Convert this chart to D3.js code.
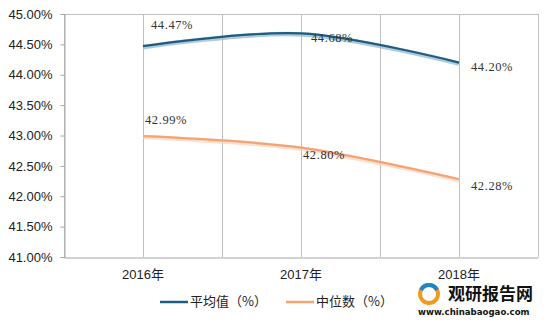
<!DOCTYPE html>
<html><head><meta charset="utf-8">
<script src="https://cdnjs.cloudflare.com/ajax/libs/d3/7.8.5/d3.min.js"></script>
<style>body{margin:0;background:#fff}svg{display:block}</style>
</head><body>
<script>
const categories = ["2016年", "2017年", "2018年"];
const meanValues = [44.47, 44.68, 44.20];
const medianValues = [42.99, 42.80, 42.28];
const yTicks = [41, 41.5, 42, 42.5, 43, 43.5, 44, 44.5, 45];
const seriesNames = ["平均值（%）", "中位数（%）"];

const W = 546, H = 326;
const svg = d3.select("body").append("svg").attr("width", W).attr("height", H);
const L = 64, R = 538, T = 14, B = 257;

const x = d3.scaleBand().domain(categories).range([L, R]);
const xc = d => x(d) + x.bandwidth() / 2;
const y = d3.scaleLinear().domain([41, 45]).range([B, T]);

const grid = "#BFBFBF";
// vertical gridlines: band edges and centers
const vx = [];
categories.forEach(c => { vx.push(x(c)); vx.push(xc(c)); });
vx.push(R);
svg.append("g").selectAll("line").data(vx).join("line")
  .attr("x1", d => Math.round(d) + 0.5).attr("x2", d => Math.round(d) + 0.5)
  .attr("y1", T).attr("y2", B).attr("stroke", grid).attr("stroke-width", 1);
// top border
svg.append("line").attr("x1", L).attr("x2", R + 0.5).attr("y1", T + 0.5).attr("y2", T + 0.5)
  .attr("stroke", grid);

// y axis
const yAxis = svg.append("g").attr("transform", `translate(${L + 0.5},0)`)
  .call(d3.axisLeft(y).tickValues(yTicks).tickSize(4).tickPadding(8)
    .tickFormat(d => d.toFixed(2) + "%"));
yAxis.select(".domain").attr("stroke", "#A6A6A6");
yAxis.selectAll(".tick line").attr("stroke", "#A6A6A6");
yAxis.selectAll("text").attr("font-family", "Liberation Sans, Arial, sans-serif")
  .attr("font-size", 13).attr("fill", "#222");

// x axis
const xAxis = svg.append("g").attr("transform", `translate(0,${B + 0.5})`)
  .call(d3.axisBottom(x).tickSize(0).tickPadding(12));
xAxis.select(".domain").attr("stroke", "#A6A6A6");
xAxis.selectAll("text").attr("font-family", "Liberation Sans, Noto Sans CJK SC, sans-serif")
  .attr("font-size", 13).attr("fill", "#222");

const line = d3.line().x((d, i) => xc(categories[i])).y(d => y(d)).curve(d3.curveCardinal.tension(0));

function drawSeries(vals, color, glow) {
  svg.append("path").datum(vals).attr("d", line).attr("fill", "none")
    .attr("stroke", glow).attr("stroke-width", 4.5).attr("transform", "translate(0,1)").attr("opacity", 0.7);
  svg.append("path").datum(vals).attr("d", line).attr("fill", "none")
    .attr("stroke", color).attr("stroke-width", 2.2);
}
drawSeries(meanValues, "#1F5C82", "#8FB6CC");
drawSeries(medianValues, "#F5A373", "#F9D2BA");

// data labels
const labelFont = "Liberation Serif, DejaVu Serif, serif";
const labOff = [[8, -16], [10, 10], [12, 6]];
function labels(vals, offs) {
  svg.append("g").selectAll("text").data(vals).join("text")
    .attr("x", (d, i) => xc(categories[i]) + offs[i][0])
    .attr("y", (d, i) => y(d) + offs[i][1])
    .attr("font-family", labelFont).attr("font-size", 12.5).attr("letter-spacing", 0.6)
    .attr("fill", "#333").attr("dominant-baseline", "middle")
    .text(d => d.toFixed(2) + "%");
}
labels(meanValues, [[8, -20], [10, 6], [12, 6]]);
labels(medianValues, [[2, -15], [2, 8], [12, 8]]);

// legend
const legend = [[160, seriesNames[0], "#1F5C82"], [286, seriesNames[1], "#F5A373"]];
legend.forEach(([lx, name, col]) => {
  svg.append("line").attr("x1", lx).attr("x2", lx + 28).attr("y1", 302).attr("y2", 302)
    .attr("stroke", col).attr("stroke-width", 2.5);
  svg.append("text").attr("x", lx + 30).attr("y", 302).attr("dominant-baseline", "middle")
    .attr("font-family", "Noto Sans CJK SC, sans-serif").attr("font-size", 13).attr("fill", "#222")
    .text(name);
});

// watermark
const wm = svg.append("g");
wm.append("circle").attr("cx", 429).attr("cy", 294).attr("r", 9).attr("fill", "none")
  .attr("stroke", "#F39A1E").attr("stroke-width", 4);
wm.append("path").attr("d", "M421,290 A9,9 0 0 1 437,290").attr("fill", "none")
  .attr("stroke", "#1D86C8").attr("stroke-width", 4);
wm.append("text").attr("x", 448).attr("y", 300).attr("font-family", "Noto Sans CJK SC, sans-serif")
  .attr("font-weight", "bold").attr("font-size", 17).attr("fill", "#111").text("观研报告网");
wm.append("text").attr("x", 418).attr("y", 315).attr("font-family", "DejaVu Sans, sans-serif")
  .attr("font-weight", "bold").attr("font-size", 8.6).attr("fill", "#111").text("www.chinabaogao.com");
</script>
</body></html>
